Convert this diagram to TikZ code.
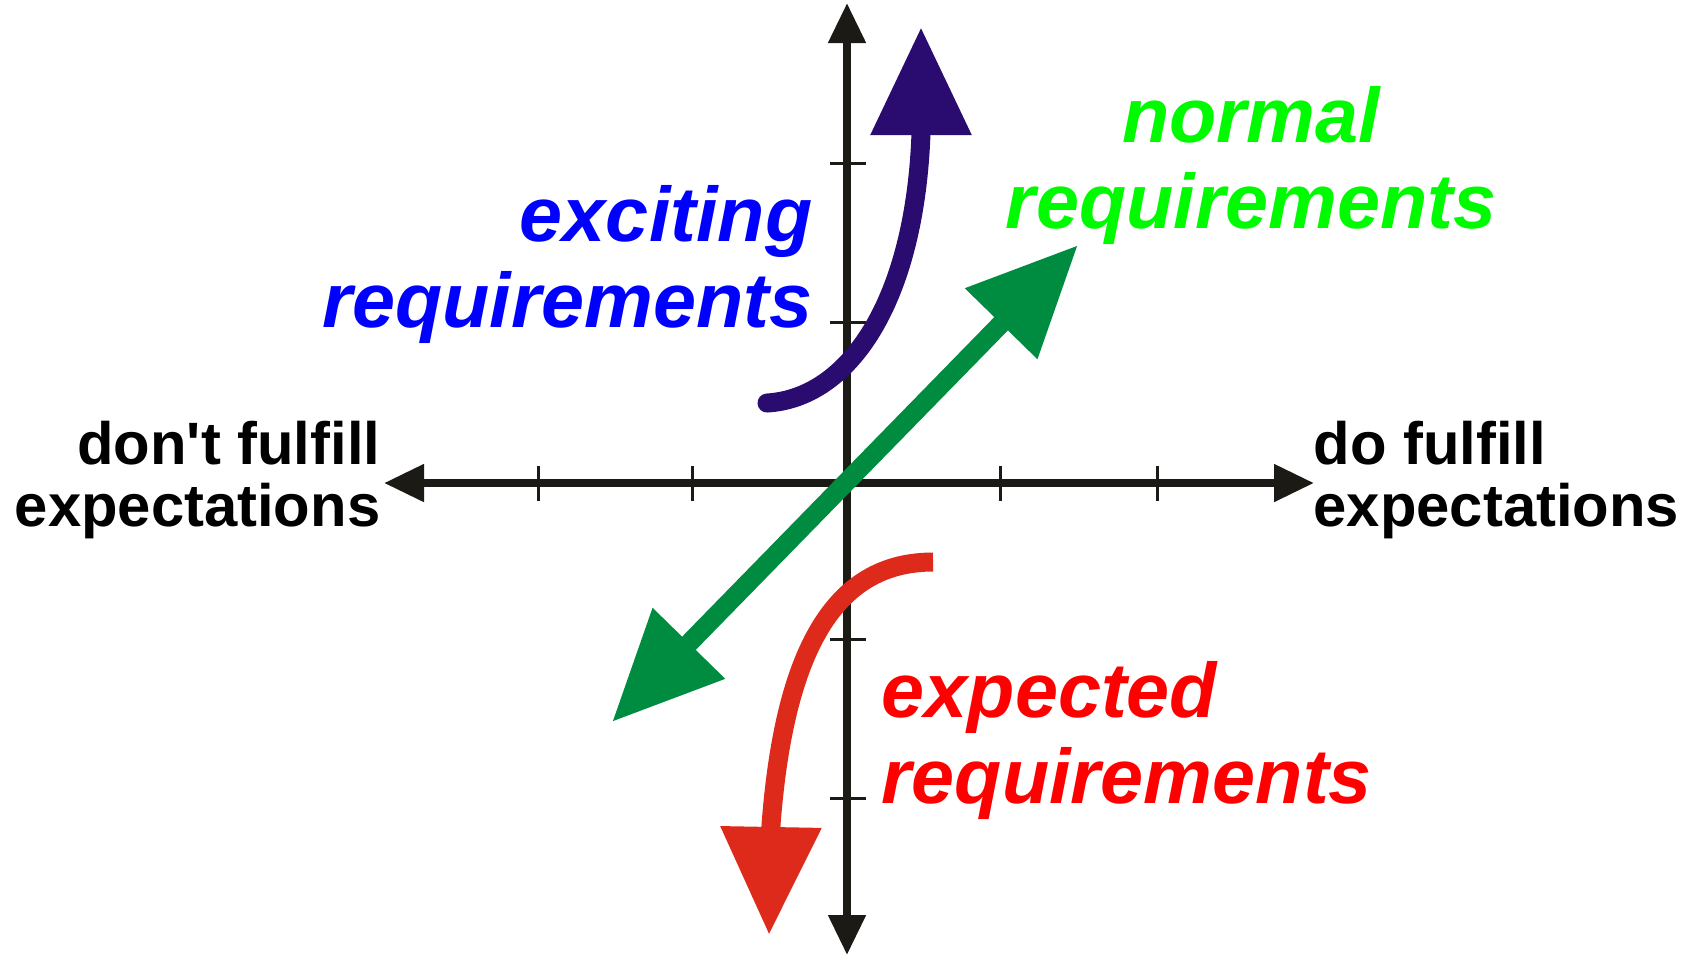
\documentclass[tikz,border=0pt]{standalone}
\usepackage{fontspec}
\setmainfont{Liberation Sans}
\usetikzlibrary{arrows.meta}
\definecolor{axisblack}{RGB}{28,26,20}
\definecolor{excitepurple}{RGB}{42,12,112}
\definecolor{normalgreen}{RGB}{0,140,64}
\definecolor{expectred}{RGB}{221,42,27}
\definecolor{excitingblue}{RGB}{0,0,255}
\definecolor{normallime}{RGB}{0,250,0}
\definecolor{expectedred}{RGB}{255,0,0}

\begin{document}
\begin{tikzpicture}[
      x=0.01cm, y=-0.01cm,
      axis/.style={line width=0.08cm, axisblack, {Triangle[length=4mm, width=3.6mm]}-{Triangle[length=4mm, width=3.6mm]}},
      tick/.style={line width=0.03cm, axisblack},
      bigarr/.style={line width=0.19cm, -{Triangle[length=10.8mm, width=9.6mm]}},
      side/.style={font=\fontsize{17}{17.6}\selectfont\bfseries, inner sep=0pt},
      req/.style={font=\fontsize{22}{24.2}\selectfont\bfseries\itshape, inner sep=0pt}
    ]
    \useasboundingbox (0,0) rectangle (1686,956);

    \coordinate (o) at (847,483);
    \coordinate (ytop) at (847,3);
    \coordinate (ybot) at (847,955);
    \coordinate (xleft) at (384,483);
    \coordinate (xright) at (1314,483);

    \draw[axis] (xleft) -- (xright);
    \draw[axis] (ybot) -- (ytop);
    \foreach \x in {538,692,1000,1157}
      \draw[tick] (\x,466) -- (\x,501);
    \foreach \y in {163,322,639,798}
      \draw[tick] (830,\y) -- (866,\y);

    \coordinate (purpletail) at (767,403);
    \coordinate (purplebase) at (921,133);
    \coordinate (purpletip) at (921,27);
    \coordinate (redtail) at (933,562);
    \coordinate (redbase) at (771,825);
    \coordinate (redtip) at (769,935);
    \coordinate (greenlow) at (612,722);
    \coordinate (greenhigh) at (1078,245);

    \draw[bigarr, excitepurple, line cap=round] (purpletail) .. controls (850,398) and (915,300) .. (purplebase) -- (purpletip);
    \draw[bigarr, expectred] (redtail) .. controls (840,562) and (785,640) .. (redbase) -- (redtip);
    \draw[line width=0.19cm, normalgreen, {Triangle[length=11mm, width=9.6mm]}-{Triangle[length=11mm, width=9.6mm]}] (greenlow) -- (greenhigh);

    \node[side, align=right, anchor=base east] (dontfulfill) at (381,526) {don\textquotesingle t fulfill\\expectations};
    \node[side, align=left, anchor=base west] (dofulfill) at (1313,526) {do fulfill\\expectations};
    \node[req, excitingblue, align=right, anchor=base east] (exciting) at (813,327) {exciting\\requirements};
    \node[req, normallime, align=center, anchor=base] (normal) at (1251,228) {normal\\requirements};
    \node[req, expectedred, align=left, anchor=base west] (expected) at (881,803) {expected\\requirements};
  \end{tikzpicture}
\end{document}
